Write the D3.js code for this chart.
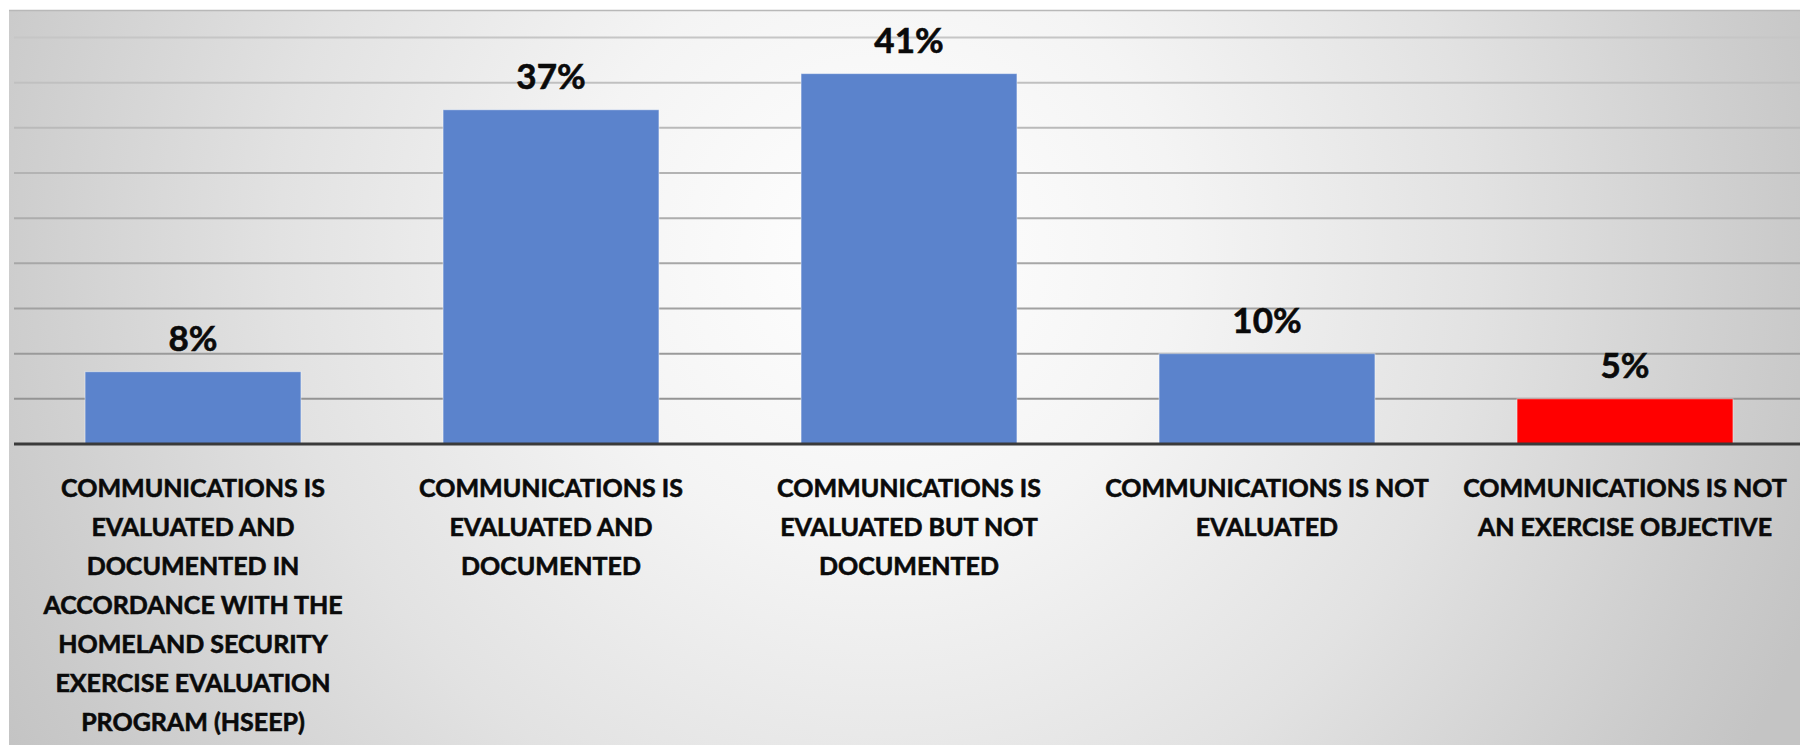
<!DOCTYPE html>
<html>
<head>
<meta charset="utf-8">
<script src="https://cdn.jsdelivr.net/npm/d3@7"></script>
<style>
  html, body { margin: 0; padding: 0; background: #ffffff; }
  svg { display: block; }
  text { font-family: Lato, "Open Sans", "Liberation Sans", sans-serif; font-weight: 700; fill: #0a0a0a; stroke: #0a0a0a; stroke-width: 0.6px; }
</style>
</head>
<body>
<svg id="chart" width="1800" height="745"></svg>
<script>
// Share of exercises by how communications was handled
const categories = [
  ["COMMUNICATIONS IS", "EVALUATED AND", "DOCUMENTED IN", "ACCORDANCE WITH THE", "HOMELAND SECURITY", "EXERCISE EVALUATION", "PROGRAM (HSEEP)"],
  ["COMMUNICATIONS IS", "EVALUATED AND", "DOCUMENTED"],
  ["COMMUNICATIONS IS", "EVALUATED BUT NOT", "DOCUMENTED"],
  ["COMMUNICATIONS IS NOT", "EVALUATED"],
  ["COMMUNICATIONS IS NOT", "AN EXERCISE OBJECTIVE"]
];
const values = [8, 37, 41, 10, 5];
const barColors = ["#5b83cc", "#5b83cc", "#5b83cc", "#5b83cc", "#ff0000"];
const gridTicks = [0, 5, 10, 15, 20, 25, 30, 35, 40, 45];

const W = 1800, H = 745;
const svg = d3.select("#chart");
const defs = svg.append("defs");

// Soft radial backdrop of the plot panel
const grad = defs.append("radialGradient")
  .attr("id", "panelGrad")
  .attr("gradientUnits", "userSpaceOnUse")
  .attr("cx", 880).attr("cy", 250).attr("r", 1000)
  .attr("fx", 880).attr("fy", 250);
[[0, "#ffffff"], [0.3, "#f4f4f4"], [0.6, "#e2e2e2"], [0.9, "#cbcbcb"], [1, "#c4c4c4"]]
  .forEach(([o, c]) => grad.append("stop").attr("offset", o).attr("stop-color", c));

const panel = { x: 9, y: 10, w: W - 9, h: H - 10 };
svg.append("rect")
  .attr("x", panel.x).attr("y", panel.y)
  .attr("width", panel.w).attr("height", panel.h)
  .attr("fill", "url(#panelGrad)");
svg.append("line")
  .attr("x1", panel.x).attr("x2", W)
  .attr("y1", panel.y + 0.5).attr("y2", panel.y + 0.5)
  .attr("stroke", "#b8b8b8").attr("stroke-width", 1.5);

const plot = { left: 14, right: 1804, baseline: 444 };

const x = d3.scaleBand()
  .domain(d3.range(values.length))
  .range([plot.left, plot.right])
  .paddingInner(0.397)
  .paddingOuter(0.1985);

const y = d3.scaleLinear()
  .domain([0, 45])
  .range([plot.baseline, plot.baseline - 406.5]);

// Horizontal gridlines, fading lighter toward the top
const gridShade = d3.interpolateRgb("#8e8e8e", "#c6c6c6");
svg.append("g")
  .selectAll("line")
  .data(gridTicks.filter(t => t > 0))
  .join("line")
  .attr("x1", plot.left).attr("x2", W)
  .attr("y1", d => y(d)).attr("y2", d => y(d))
  .attr("stroke", d => gridShade(d / 45))
  .attr("stroke-width", 2);

// Bars
svg.append("g")
  .selectAll("rect")
  .data(values)
  .join("rect")
  .attr("x", (d, i) => x(i))
  .attr("y", d => y(d))
  .attr("width", x.bandwidth())
  .attr("height", d => y(0) - y(d))
  .attr("fill", (d, i) => barColors[i])
  .attr("stroke", "#ffffff")
  .attr("stroke-opacity", 0.45)
  .attr("stroke-width", 1);

// Category axis line
svg.append("line")
  .attr("x1", plot.left).attr("x2", W)
  .attr("y1", y(0)).attr("y2", y(0))
  .attr("stroke", "#3a3a3a").attr("stroke-width", 3);

// Value labels above bars
svg.append("g")
  .selectAll("text")
  .data(values)
  .join("text")
  .attr("x", (d, i) => x(i) + x.bandwidth() / 2)
  .attr("y", d => y(d) - 21)
  .attr("text-anchor", "middle")
  .style("font-size", "35px")
  .text(d => d + "%");

// Category labels under the axis
const catG = svg.append("g")
  .selectAll("text")
  .data(categories)
  .join("text")
  .attr("x", (d, i) => x(i) + x.bandwidth() / 2)
  .attr("y", 497)
  .attr("text-anchor", "middle")
  .style("font-size", "25px");
catG.selectAll("tspan")
  .data(d => d)
  .join("tspan")
  .attr("x", function () { return d3.select(this.parentNode).attr("x"); })
  .attr("dy", (d, j) => j === 0 ? 0 : 39)
  .text(d => d);
</script>
</body>
</html>
